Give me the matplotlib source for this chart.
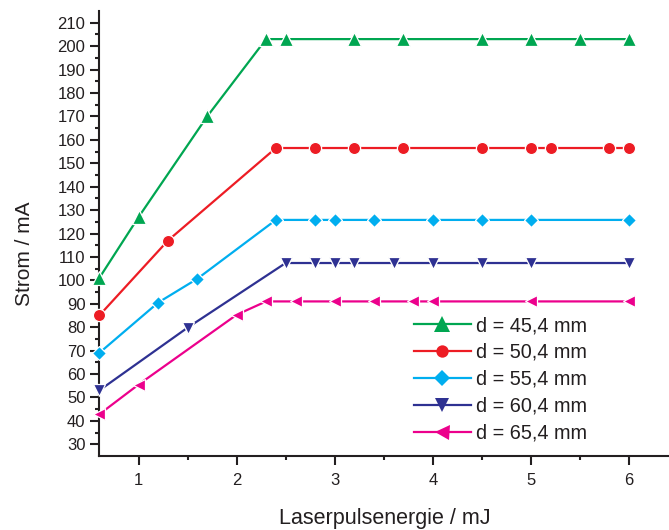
import matplotlib
matplotlib.use("Agg")
import matplotlib.pyplot as plt
from matplotlib.lines import Line2D

plt.rcParams['font.family'] = ['Liberation Sans', 'DejaVu Sans']

labels = ["d = 45,4 mm", "d = 50,4 mm", "d = 55,4 mm", "d = 60,4 mm", "d = 65,4 mm"]

x_45 = [0.6, 1.0, 1.7, 2.3, 2.5, 3.2, 3.7, 4.5, 5.0, 5.5, 6.0]
y_45 = [101, 127, 170, 203, 203, 203, 203, 203, 203, 203, 203]

x_50 = [0.6, 1.3, 2.4, 2.8, 3.2, 3.7, 4.5, 5.0, 5.2, 5.8, 6.0]
y_50 = [85, 117, 156.5, 156.5, 156.5, 156.5, 156.5, 156.5, 156.5, 156.5, 156.5]

x_55 = [0.6, 1.2, 1.6, 2.4, 2.8, 3.0, 3.4, 4.0, 4.5, 5.0, 6.0]
y_55 = [69, 90.5, 100.7, 125.8, 125.8, 125.8, 125.8, 125.8, 125.8, 125.8, 125.8]

x_60 = [0.6, 1.5, 2.5, 2.8, 3.0, 3.2, 3.6, 4.0, 4.5, 5.0, 6.0]
y_60 = [53, 79.8, 107.4, 107.4, 107.4, 107.4, 107.4, 107.4, 107.4, 107.4, 107.4]

x_65 = [0.6, 1.0, 2.0, 2.3, 2.6, 3.0, 3.4, 3.8, 4.0, 5.0, 6.0]
y_65 = [42.8, 55.5, 85.3, 91, 91, 91, 91, 91, 91, 91, 91]

colors = ["#00A651", "#ED1C24", "#00AEEF", "#2E3192", "#EC008C"]
markers = ["^", "o", "D", "v", "<"]
msizes = [9.6, 8.8, 6.8, 9.0, 9.2]
leg_msizes = [11.3, 8.9, 8.3, 9.6, 10.8]

xs = [x_45, x_50, x_55, x_60, x_65]
ys = [y_45, y_50, y_55, y_60, y_65]

txt = "#231F20"

fig = plt.figure(figsize=(6.69, 5.30), dpi=100)
ax = fig.add_axes([99.3 / 669, 74 / 530, (668.3 - 99.3) / 669, (456 - 11) / 530])

for x, y, c, m, ms in zip(xs, ys, colors, markers, msizes):
    ax.plot(x, y, color=c, lw=1.6, marker=m, ms=ms, mfc=c, mec="white", mew=0.9,
            clip_on=False, zorder=3)

ax.set_xlim(0.6, 6.4)
ax.set_ylim(25, 215)
ax.set_xticks([1, 2, 3, 4, 5, 6])
ax.set_xticks([1.5, 2.5, 3.5, 4.5, 5.5], minor=True)
ax.set_yticks(list(range(30, 211, 10)))
ax.set_yticks(list(range(35, 215, 10)), minor=True)

for s in ["top", "right"]:
    ax.spines[s].set_visible(False)
for s in ["left", "bottom"]:
    ax.spines[s].set_linewidth(1.5)
    ax.spines[s].set_color(txt)

ax.tick_params(which="major", direction="out", length=6.5, width=1.5, color=txt,
               labelsize=12, labelcolor=txt, pad=3.5)
ax.tick_params(which="minor", direction="out", length=3.2, width=1.5, color=txt)
ax.tick_params(axis="x", which="major", pad=6)

ax.set_xlabel("Laserpulsenergie / mJ", fontsize=15.5, color=txt)
ax.set_ylabel("Strom / mA", fontsize=15, color=txt)
ax.xaxis.set_label_coords(0.502, -0.116)
ax.yaxis.set_label_coords(-0.115, 0.454)

handles = [Line2D([], [], color=c, lw=1.6, marker=m, ms=ms, mfc=c, mec=c, mew=0)
           for c, m, ms in zip(colors, markers, leg_msizes)]
leg = ax.legend(handles, labels, loc="upper left",
                bbox_to_anchor=(414 / 669, (530 - 316) / 530),
                bbox_transform=fig.transFigure, frameon=False, fontsize=14.3,
                handlelength=2.86, handletextpad=0.25, labelspacing=0.4,
                borderpad=0, borderaxespad=0)
for t in leg.get_texts():
    t.set_color(txt)

fig.savefig("out.png", dpi=100)
